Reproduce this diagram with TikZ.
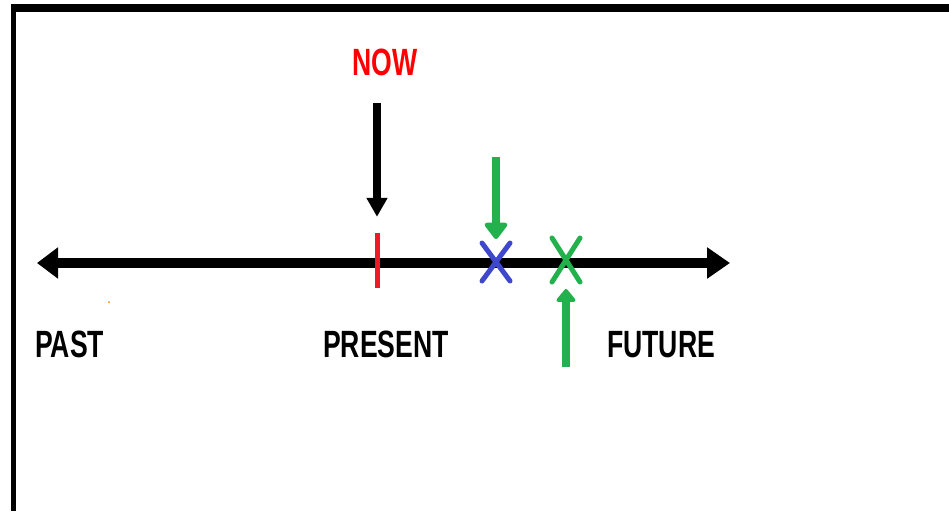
\documentclass[tikz,border=0pt]{standalone}
\usepackage{fontspec}
\newfontfamily\sketchfont{Liberation Sans}[FakeStretch=0.7]
\usetikzlibrary{arrows.meta}
\usetikzlibrary{shapes.misc}
\definecolor{paintred}{HTML}{ED1C24}
\definecolor{paintgreen}{HTML}{22B14C}
\definecolor{paintblue}{HTML}{3F48CC}

\begin{document}
\begin{tikzpicture}[x=1pt, y=-1pt,
		lbl/.style = {font=\sketchfont\bfseries\fontsize{38}{40}\selectfont, inner sep=0pt, anchor=base west},
		xmark/.style = {cross out, draw, line width=5pt, line cap=round, inner sep=0pt, minimum width=23pt},
		pointer/.style = {line width=8pt, -{Triangle[length=19pt,width=20pt]}},
		greenpointer/.style = {pointer, paintgreen, -{Triangle[round,length=18pt,width=26pt]}},
	]
	\useasboundingbox (0,0) rectangle (949,511);

	% frame
	\draw[line width=8pt] (11,8) -- (949,8);
	\draw[line width=5pt] (13.5,4) -- (13.5,511);

	% time line
	\coordinate (pastend) at (37,263);
	\coordinate (futureend) at (730,263);
	\draw[line width=10pt, {Triangle[length=21pt,width=30pt]}-{Triangle[length=23pt,width=30pt]}] (pastend) -- (futureend);

	\node[fill=paintred, inner sep=0pt, minimum width=5pt, minimum height=55pt] (tick) at (377,260.5) {};
	\node[xmark, draw=paintblue, minimum height=33pt] (bluex) at (496,262) {};
	\node[xmark, draw=paintgreen, minimum height=39pt] (greenx) at (566,260) {};

	% labels
	\node[lbl, red] (now) at (352,75) {NOW};
	\node[lbl] (past) at (35,357) {PAST};
	\node[lbl] (present) at (323,357) {PRESENT};
	\node[lbl] (future) at (607,357) {FUTURE};

	% pointers
	\coordinate (nowfoot) at (377,103);
	\coordinate (bluefoot) at (496,157);
	\coordinate (greenfoot) at (566,367);
	\draw[pointer, shorten >=16pt] (nowfoot) -- (tick.north);
	\draw[greenpointer, shorten >=4pt] (bluefoot) -- (bluex.north);
	\draw[greenpointer, -{Triangle[round,length=14pt,width=22pt]}, shorten >=7pt] (greenfoot) -- (greenx.south);

	\fill[orange] (109,302) circle (1pt);
\end{tikzpicture}
\end{document}
